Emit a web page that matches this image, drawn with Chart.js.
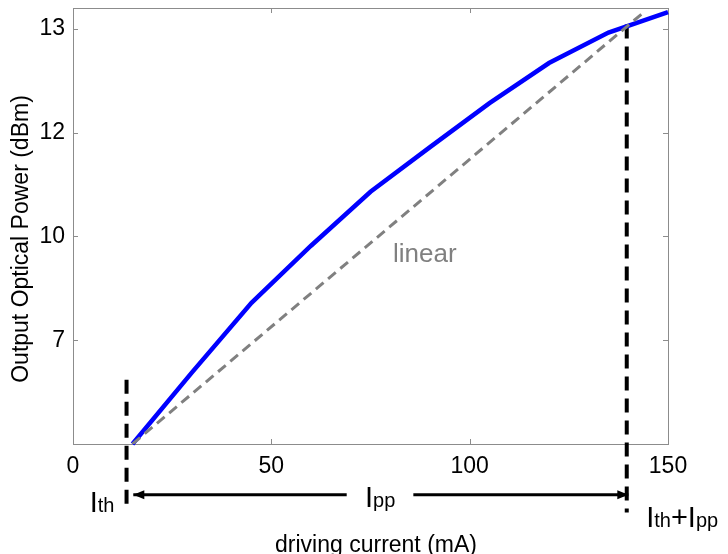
<!DOCTYPE html>
<html><head><meta charset="utf-8">
<script src="https://cdn.jsdelivr.net/npm/chart.js@4.4.0/dist/chart.umd.min.js"></script>
<style>html,body{margin:0;padding:0;background:#fff;} #wrap{width:728px;height:554px;position:relative;}</style>
</head><body><div id="wrap"><canvas id="c"></canvas></div>
<script>
// driving current (mA) vs output optical power (linear mW scale, labelled in dBm)
const currentMA = [15, 30, 45, 60, 75, 90, 105, 120, 135, 150];
const powerMW   = [0, 3.45, 6.8, 9.55, 12.15, 14.3, 16.42, 18.35, 19.82, 20.8];
const linearX = [15, 143.3];
const linearY = [0, 20.7];
const xTicks = [0, 50, 100, 150];
const yTickValues = [5, 10, 15, 20];
const yTickLabels = ['7', '10', '12', '13'];
const ithX = [13.5, 13.5];
const ithY = [3.1, -3.0];
const ithIppX = [139.6, 139.6];
const ithIppY = [20.2, -3.3];
const arrowY = -2.44;
const arrowLeftX = [15.2, 69];
const arrowRightX = [85.8, 140];
// text annotations: parts [text, isSubscript], left x (mA), baseline y (mW)
const notes = [
  {parts: [['I', false], ['th', true]], x: 4.2, y: -3.29},
  {parts: [['I', false], ['pp', true]], x: 73.6, y: -3.05},
  {parts: [['I', false], ['th', true], ['+', false], ['I', false], ['pp', true]], x: 144.5, y: -3.99}
];
const linearLabel = {text: 'linear', x: 88.7, y: 8.77};
const xTitle = 'driving current (mA)';
const yTitle = 'Output Optical Power (dBm)';

const pts = (xs, ys) => xs.map((v, i) => ({x: v, y: ys[i]}));
const FONT = '"Liberation Sans", Arial, sans-serif';

function arrowHead(ctx, px, py, dir) {
  const len = 11, hw = 4.5;
  ctx.beginPath();
  ctx.moveTo(px, py);
  ctx.lineTo(px - dir * len, py - hw);
  ctx.lineTo(px - dir * len, py + hw);
  ctx.closePath();
  ctx.fill();
}

const deco = {
  id: 'deco',
  beforeDatasetsDraw(chart) {
    const {ctx, chartArea: a, scales: {x, y}} = chart;
    ctx.save();
    ctx.strokeStyle = '#8c8c8c'; ctx.lineWidth = 1;
    ctx.strokeRect(a.left + 0.5, a.top + 0.5, a.right - a.left, a.bottom - a.top);
    const tl = 5;
    ctx.beginPath();
    xTicks.forEach(v => {
      const px = Math.round(x.getPixelForValue(v)) + 0.5;
      ctx.moveTo(px, a.bottom); ctx.lineTo(px, a.bottom - tl);
      ctx.moveTo(px, a.top); ctx.lineTo(px, a.top + tl);
    });
    yTickValues.forEach(v => {
      const py = Math.round(y.getPixelForValue(v)) + 0.5;
      ctx.moveTo(a.left, py); ctx.lineTo(a.left + tl, py);
      ctx.moveTo(a.right, py); ctx.lineTo(a.right - tl, py);
    });
    ctx.stroke();
    ctx.restore();
  },
  afterDatasetsDraw(chart) {
    const {ctx, scales: {x, y}} = chart;
    ctx.save();
    // arrow heads
    ctx.fillStyle = '#000';
    arrowHead(ctx, x.getPixelForValue(arrowLeftX[0]), y.getPixelForValue(arrowY), -1);
    arrowHead(ctx, x.getPixelForValue(arrowRightX[1]), y.getPixelForValue(arrowY), 1);
    ctx.textBaseline = 'alphabetic';
    // linear label
    ctx.fillStyle = '#808080';
    ctx.font = '26px ' + FONT;
    ctx.textAlign = 'center';
    ctx.fillText(linearLabel.text, x.getPixelForValue(linearLabel.x), y.getPixelForValue(linearLabel.y));
    // I labels
    ctx.fillStyle = '#000';
    ctx.textAlign = 'left';
    notes.forEach(n => {
      let px = x.getPixelForValue(n.x);
      const py = y.getPixelForValue(n.y);
      n.parts.forEach(([t, sub]) => {
        ctx.font = (sub ? '20px ' : '29px ') + FONT;
        ctx.fillText(t, px, py);
        px += ctx.measureText(t).width;
      });
    });
    // axis titles
    ctx.font = '23px ' + FONT;
    ctx.textAlign = 'center';
    ctx.fillText(xTitle, 376, 552);
    ctx.translate(28, 239);
    ctx.rotate(-Math.PI / 2);
    ctx.fillText(yTitle, 0, 0);
    ctx.restore();
  }
};

new Chart(document.getElementById('c'), {
  type: 'line',
  data: {
    datasets: [
      {data: pts(linearX, linearY), borderColor: '#808080', borderWidth: 3, borderDash: [10, 6], pointRadius: 0, fill: false},
      {data: pts(currentMA, powerMW), borderColor: '#0000ff', borderWidth: 4.5, pointRadius: 0, fill: false, clip: false},
      {data: pts(ithX, ithY), borderColor: '#000', borderWidth: 4, borderDash: [14, 8], pointRadius: 0, clip: false},
      {data: pts(ithIppX, ithIppY), borderColor: '#000', borderWidth: 4, borderDash: [14, 8], pointRadius: 0, clip: false},
      {data: pts(arrowLeftX, [arrowY, arrowY]), borderColor: '#000', borderWidth: 3, pointRadius: 0, clip: false},
      {data: pts(arrowRightX, [arrowY, arrowY]), borderColor: '#000', borderWidth: 3, pointRadius: 0, clip: false}
    ]
  },
  options: {
    responsive: true, maintainAspectRatio: false, animation: false,
    layout: {padding: {left: 0, top: 8, right: 60, bottom: 0}},
    plugins: {legend: {display: false}, tooltip: {enabled: false}},
    elements: {line: {tension: 0}},
    scales: {
      x: {
        type: 'linear', min: 0, max: 150,
        afterBuildTicks: s => { s.ticks = xTicks.map(v => ({value: v})); },
        afterFit: s => { s.height = 110; s.paddingLeft = 0; s.paddingRight = 0; },
        grid: {display: false, drawTicks: false},
        border: {display: false},
        ticks: {color: '#000', font: {size: 23, family: FONT}, padding: 9, maxRotation: 0, autoSkip: false}
      },
      y: {
        type: 'linear', min: 0, max: 21,
        afterBuildTicks: s => { s.ticks = yTickValues.map(v => ({value: v})); },
        afterFit: s => { s.width = 73; s.paddingTop = 0; s.paddingBottom = 0; },
        grid: {display: false, drawTicks: false},
        border: {display: false},
        ticks: {color: '#000', font: {size: 23, family: FONT}, padding: 8, autoSkip: false,
          callback: v => { const i = yTickValues.indexOf(v); return i >= 0 ? yTickLabels[i] : ''; }}
      }
    }
  },
  plugins: [deco]
});
</script>
</body></html>
